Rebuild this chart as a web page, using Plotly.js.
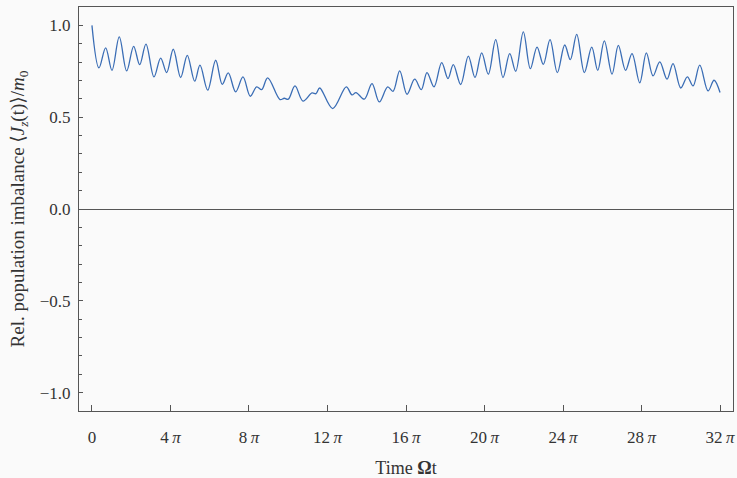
<!DOCTYPE html>
<html>
<head>
<meta charset="utf-8">
<script src="https://cdn.plot.ly/plotly-3.0.1.min.js"></script>
<style>html,body{margin:0;padding:0;background:#fafafa;}#chart{width:737px;height:478px;}</style>
</head>
<body>
<div id="chart"></div>
<script>
// Time in units of pi (Omega t / pi), read at the local extrema of the curve
const timePi = [0, 0.357, 0.698, 1.019, 1.391, 1.768, 2.125, 2.431, 2.752, 3.159, 3.501, 3.806, 4.143, 4.520, 4.856, 5.233, 5.503, 5.896, 6.303, 6.640, 6.945, 7.322, 7.694, 8.066, 8.392, 8.647, 8.953, 9.580, 9.799, 10.003, 10.344, 10.752, 11.210, 11.414, 11.603, 12.265, 12.958, 13.248, 13.452, 13.875, 14.268, 14.640, 15.068, 15.338, 15.679, 16.051, 16.443, 16.780, 17.070, 17.427, 17.819, 18.140, 18.410, 18.787, 19.175, 19.516, 19.857, 20.194, 20.571, 20.943, 21.284, 21.590, 21.977, 22.334, 22.675, 22.996, 23.338, 23.710, 24.087, 24.372, 24.698, 25.086, 25.463, 25.768, 26.104, 26.497, 26.818, 27.185, 27.516, 27.908, 28.245, 28.586, 28.927, 29.299, 29.605, 29.997, 30.334, 30.624, 30.966, 31.389, 31.694, 32.0];
const imbalance = [1.000, 0.768, 0.877, 0.755, 0.937, 0.752, 0.886, 0.786, 0.898, 0.719, 0.822, 0.743, 0.870, 0.716, 0.837, 0.696, 0.783, 0.647, 0.810, 0.679, 0.741, 0.638, 0.719, 0.614, 0.665, 0.650, 0.714, 0.596, 0.603, 0.598, 0.670, 0.588, 0.632, 0.628, 0.659, 0.547, 0.665, 0.621, 0.634, 0.598, 0.683, 0.583, 0.665, 0.641, 0.752, 0.625, 0.707, 0.650, 0.743, 0.665, 0.797, 0.710, 0.786, 0.678, 0.833, 0.716, 0.850, 0.734, 0.922, 0.716, 0.846, 0.750, 0.964, 0.764, 0.882, 0.788, 0.922, 0.743, 0.893, 0.813, 0.951, 0.743, 0.882, 0.755, 0.915, 0.734, 0.891, 0.755, 0.846, 0.687, 0.850, 0.725, 0.801, 0.707, 0.792, 0.659, 0.720, 0.670, 0.783, 0.643, 0.701, 0.634];
const xTickVals = [0, 4, 8, 12, 16, 20, 24, 28, 32];
const xTickText = ['0', '4\u2009<i>π</i>', '8\u2009<i>π</i>', '12\u2009<i>π</i>', '16\u2009<i>π</i>', '20\u2009<i>π</i>', '24\u2009<i>π</i>', '28\u2009<i>π</i>', '32\u2009<i>π</i>'];
const yTickVals = [-1.0, -0.5, 0.0, 0.5, 1.0];
const yTickText = ['\u22121.0', '\u22120.5', '0.0', '0.5', '1.0'];

const trace = {
  x: timePi, y: imbalance, type: 'scatter', mode: 'lines',
  line: {color: '#3a6db5', width: 1.3, shape: 'spline', smoothing: 1.0},
  hoverinfo: 'skip'
};
const fam = 'Liberation Serif, DejaVu Serif, serif';
const layout = {
  width: 737, height: 478,
  margin: {l: 79, r: 4, t: 7, b: 67},
  paper_bgcolor: '#fafafa', plot_bgcolor: '#fafafa',
  font: {family: fam, size: 17, color: '#333'}, showlegend: false,
  xaxis: {
    range: [-0.66, 32.66], tickvals: xTickVals, ticktext: xTickText,
    ticks: 'inside', ticklen: 6, tickcolor: '#555', tickwidth: 1,
    tickfont: {family: fam, size: 17, color: '#333'},
    ticklabelstandoff: 11,
    showgrid: false, zeroline: false, showline: true, mirror: true, linecolor: '#555', linewidth: 1,
    title: {text: 'Time <b>Ω</b>t', font: {family: fam, size: 18, color: '#333'}, standoff: 20}
  },
  yaxis: {
    range: [-1.1, 1.1], tickvals: yTickVals, ticktext: yTickText,
    ticks: 'inside', ticklen: 4, tickcolor: '#555', tickwidth: 1,
    tickfont: {family: fam, size: 17, color: '#333'},
    minor: {dtick: 0.1, tick0: 0, ticks: 'inside', ticklen: 3, tickcolor: '#555', showgrid: false},
    ticklabelstandoff: 4,
    showgrid: false, zeroline: true, zerolinecolor: '#555', zerolinewidth: 1,
    showline: true, mirror: true, linecolor: '#555', linewidth: 1,
    title: {text: 'Rel. population imbalance ⟨<i>J</i><sub><i>z</i></sub>(t)⟩/<i>m</i><sub>0</sub>', font: {family: fam, size: 19, color: '#333'}, standoff: 10}
  }
};
Plotly.newPlot('chart', [trace], layout, {displayModeBar: false, staticPlot: true});
</script>
</body>
</html>
